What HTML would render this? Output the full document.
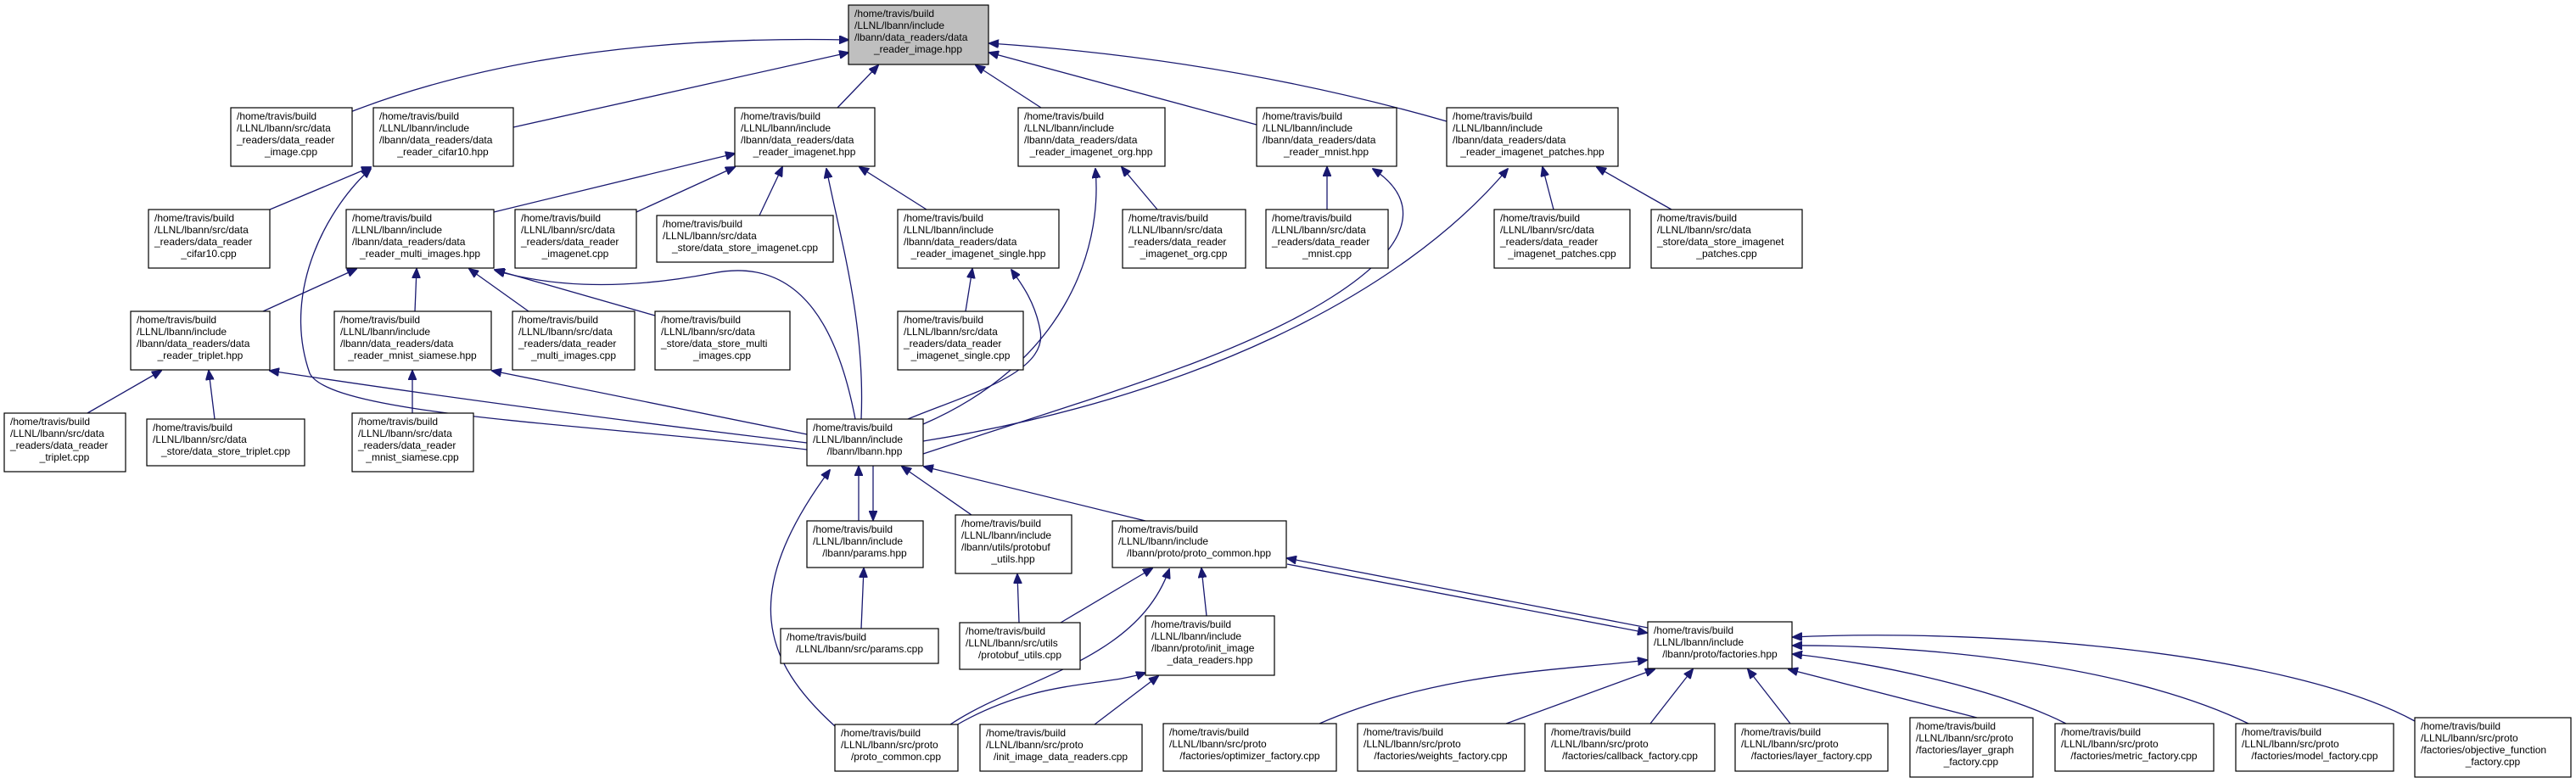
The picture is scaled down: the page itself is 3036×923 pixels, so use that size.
<!DOCTYPE html>
<html><head><meta charset="utf-8"><style>
html,body{margin:0;padding:0;background:#fff;}
svg{display:block;}
text{font-family:"Liberation Sans",Arial,sans-serif;font-size:12px;fill:#000;}
.n{fill:#fff;stroke:#000;stroke-width:1.2;}
.e{fill:none;stroke:#191970;stroke-width:1.3;}
</style></head><body>
<svg width="3036" height="923" viewBox="0 0 3036 923" xmlns="http://www.w3.org/2000/svg">
<defs><marker id="a" markerWidth="12" markerHeight="10" refX="11" refY="5" orient="auto" markerUnits="userSpaceOnUse"><path d="M0,0 L12,5 L0,10 z" fill="#191970" stroke="#191970"/></marker></defs>
<g>
<path class="e" marker-end="url(#a)" d="M413,132 Q650,40 1000,47"/>
<path class="e" marker-end="url(#a)" d="M605,150 L1000,62"/>
<path class="e" marker-end="url(#a)" d="M987,127 L1035,77"/>
<path class="e" marker-end="url(#a)" d="M1227,127 L1150,77"/>
<path class="e" marker-end="url(#a)" d="M1481,147 L1166,62"/>
<path class="e" marker-end="url(#a)" d="M1705,143 Q1450,70 1166,51"/>
<path class="e" marker-end="url(#a)" d="M318,247 L437,197"/>
<path class="e" marker-end="url(#a)" d="M951,530 C700,500 390,490 365,440 C330,340 390,240 437,199"/>
<path class="e" marker-end="url(#a)" d="M582,250 L866,181"/>
<path class="e" marker-end="url(#a)" d="M750,250 L866,197"/>
<path class="e" marker-end="url(#a)" d="M895,254 L922,197"/>
<path class="e" marker-end="url(#a)" d="M1092,247 L1013,197"/>
<path class="e" marker-end="url(#a)" d="M1015,494 C1020,380 990,280 974,199"/>
<path class="e" marker-end="url(#a)" d="M310,367 L420,317"/>
<path class="e" marker-end="url(#a)" d="M489,367 L491,317"/>
<path class="e" marker-end="url(#a)" d="M623,367 L553,317"/>
<path class="e" marker-end="url(#a)" d="M772,372 L583,318"/>
<path class="e" marker-end="url(#a)" d="M1008,494 C990,400 950,300 840,322 C720,345 640,335 584,319"/>
<path class="e" marker-end="url(#a)" d="M103,487 L190,437"/>
<path class="e" marker-end="url(#a)" d="M253,494 L246,437"/>
<path class="e" marker-end="url(#a)" d="M951,522 Q600,480 318,437"/>
<path class="e" marker-end="url(#a)" d="M486,487 L486,437"/>
<path class="e" marker-end="url(#a)" d="M951,512 L580,437"/>
<path class="e" marker-end="url(#a)" d="M1138,367 L1146,317"/>
<path class="e" marker-end="url(#a)" d="M1070,494 C1140,465 1235,440 1226,390 C1220,355 1202,332 1192,318"/>
<path class="e" marker-end="url(#a)" d="M1364,247 L1322,197"/>
<path class="e" marker-end="url(#a)" d="M1088,500 C1250,430 1300,300 1291,199"/>
<path class="e" marker-end="url(#a)" d="M1564,247 L1564,197"/>
<path class="e" marker-end="url(#a)" d="M1088,535 C1300,465 1460,420 1570,350 C1680,280 1665,230 1618,199"/>
<path class="e" marker-end="url(#a)" d="M1831,247 L1818,197"/>
<path class="e" marker-end="url(#a)" d="M1970,247 L1882,197"/>
<path class="e" marker-end="url(#a)" d="M1088,520 C1400,470 1650,350 1777,199"/>
<path class="e" marker-end="url(#a)" d="M1012,614 L1012,550"/>
<path class="e" marker-end="url(#a)" d="M1029,549 L1029,613"/>
<path class="e" marker-end="url(#a)" d="M1145,607 L1063,550"/>
<path class="e" marker-end="url(#a)" d="M1350,614 L1089,550"/>
<path class="e" marker-end="url(#a)" d="M984,856 C900,780 870,700 978,554"/>
<path class="e" marker-end="url(#a)" d="M1015,741 L1018,670"/>
<path class="e" marker-end="url(#a)" d="M1201,734 L1199,677"/>
<path class="e" marker-end="url(#a)" d="M1250,734 L1358,670"/>
<path class="e" marker-end="url(#a)" d="M1120,854 C1200,800 1340,780 1378,671"/>
<path class="e" marker-end="url(#a)" d="M1422,726 L1416,670"/>
<path class="e" marker-end="url(#a)" d="M1125,856 C1220,800 1300,810 1350,793"/>
<path class="e" marker-end="url(#a)" d="M1290,854 L1365,797"/>
<path class="e" marker-end="url(#a)" d="M1942,740 L1517,658"/>
<path class="e" marker-end="url(#a)" d="M1517,665 L1941,746"/>
<path class="e" marker-end="url(#a)" d="M1555,853 C1700,790 1850,790 1941,778"/>
<path class="e" marker-end="url(#a)" d="M1775,853 L1950,789"/>
<path class="e" marker-end="url(#a)" d="M1945,853 L1995,789"/>
<path class="e" marker-end="url(#a)" d="M2110,853 L2060,789"/>
<path class="e" marker-end="url(#a)" d="M2330,846 L2108,789"/>
<path class="e" marker-end="url(#a)" d="M2435,853 C2350,810 2200,780 2113,771"/>
<path class="e" marker-end="url(#a)" d="M2650,853 C2500,780 2250,760 2113,761"/>
<path class="e" marker-end="url(#a)" d="M2846,850 C2700,770 2350,740 2113,751"/>
</g>
<g>
<rect class="n" x="1000" y="6" width="165" height="70" style="fill:#bfbfbf"/>
<text x="1007" y="20">/home/travis/build</text><text x="1007" y="34">/LLNL/lbann/include</text><text x="1007" y="48">/lbann/data_readers/data</text><text x="1082" y="62" text-anchor="middle">_reader_image.hpp</text>

<rect class="n" x="272" y="127" width="143" height="69"/>
<text x="279" y="141">/home/travis/build</text><text x="279" y="155">/LLNL/lbann/src/data</text><text x="279" y="169">_readers/data_reader</text><text x="343" y="183" text-anchor="middle">_image.cpp</text>

<rect class="n" x="440" y="127" width="165" height="69"/>
<text x="447" y="141">/home/travis/build</text><text x="447" y="155">/LLNL/lbann/include</text><text x="447" y="169">/lbann/data_readers/data</text><text x="522" y="183" text-anchor="middle">_reader_cifar10.hpp</text>

<rect class="n" x="866" y="127" width="165" height="69"/>
<text x="873" y="141">/home/travis/build</text><text x="873" y="155">/LLNL/lbann/include</text><text x="873" y="169">/lbann/data_readers/data</text><text x="948" y="183" text-anchor="middle">_reader_imagenet.hpp</text>

<rect class="n" x="1200" y="127" width="173" height="69"/>
<text x="1207" y="141">/home/travis/build</text><text x="1207" y="155">/LLNL/lbann/include</text><text x="1207" y="169">/lbann/data_readers/data</text><text x="1286" y="183" text-anchor="middle">_reader_imagenet_org.hpp</text>

<rect class="n" x="1481" y="127" width="165" height="69"/>
<text x="1488" y="141">/home/travis/build</text><text x="1488" y="155">/LLNL/lbann/include</text><text x="1488" y="169">/lbann/data_readers/data</text><text x="1563" y="183" text-anchor="middle">_reader_mnist.hpp</text>

<rect class="n" x="1705" y="127" width="202" height="69"/>
<text x="1712" y="141">/home/travis/build</text><text x="1712" y="155">/LLNL/lbann/include</text><text x="1712" y="169">/lbann/data_readers/data</text><text x="1806" y="183" text-anchor="middle">_reader_imagenet_patches.hpp</text>

<rect class="n" x="175" y="247" width="143" height="69"/>
<text x="182" y="261">/home/travis/build</text><text x="182" y="275">/LLNL/lbann/src/data</text><text x="182" y="289">_readers/data_reader</text><text x="246" y="303" text-anchor="middle">_cifar10.cpp</text>

<rect class="n" x="408" y="247" width="174" height="69"/>
<text x="415" y="261">/home/travis/build</text><text x="415" y="275">/LLNL/lbann/include</text><text x="415" y="289">/lbann/data_readers/data</text><text x="495" y="303" text-anchor="middle">_reader_multi_images.hpp</text>

<rect class="n" x="607" y="247" width="143" height="69"/>
<text x="614" y="261">/home/travis/build</text><text x="614" y="275">/LLNL/lbann/src/data</text><text x="614" y="289">_readers/data_reader</text><text x="678" y="303" text-anchor="middle">_imagenet.cpp</text>

<rect class="n" x="774" y="254" width="208" height="55"/>
<text x="781" y="268">/home/travis/build</text><text x="781" y="282">/LLNL/lbann/src/data</text><text x="878" y="296" text-anchor="middle">_store/data_store_imagenet.cpp</text>

<rect class="n" x="1058" y="247" width="190" height="69"/>
<text x="1065" y="261">/home/travis/build</text><text x="1065" y="275">/LLNL/lbann/include</text><text x="1065" y="289">/lbann/data_readers/data</text><text x="1153" y="303" text-anchor="middle">_reader_imagenet_single.hpp</text>

<rect class="n" x="1323" y="247" width="145" height="69"/>
<text x="1330" y="261">/home/travis/build</text><text x="1330" y="275">/LLNL/lbann/src/data</text><text x="1330" y="289">_readers/data_reader</text><text x="1395" y="303" text-anchor="middle">_imagenet_org.cpp</text>

<rect class="n" x="1492" y="247" width="144" height="69"/>
<text x="1499" y="261">/home/travis/build</text><text x="1499" y="275">/LLNL/lbann/src/data</text><text x="1499" y="289">_readers/data_reader</text><text x="1564" y="303" text-anchor="middle">_mnist.cpp</text>

<rect class="n" x="1761" y="247" width="160" height="69"/>
<text x="1768" y="261">/home/travis/build</text><text x="1768" y="275">/LLNL/lbann/src/data</text><text x="1768" y="289">_readers/data_reader</text><text x="1841" y="303" text-anchor="middle">_imagenet_patches.cpp</text>

<rect class="n" x="1946" y="247" width="178" height="69"/>
<text x="1953" y="261">/home/travis/build</text><text x="1953" y="275">/LLNL/lbann/src/data</text><text x="1953" y="289">_store/data_store_imagenet</text><text x="2035" y="303" text-anchor="middle">_patches.cpp</text>

<rect class="n" x="154" y="367" width="164" height="69"/>
<text x="161" y="381">/home/travis/build</text><text x="161" y="395">/LLNL/lbann/include</text><text x="161" y="409">/lbann/data_readers/data</text><text x="236" y="423" text-anchor="middle">_reader_triplet.hpp</text>

<rect class="n" x="394" y="367" width="185" height="69"/>
<text x="401" y="381">/home/travis/build</text><text x="401" y="395">/LLNL/lbann/include</text><text x="401" y="409">/lbann/data_readers/data</text><text x="486" y="423" text-anchor="middle">_reader_mnist_siamese.hpp</text>

<rect class="n" x="604" y="367" width="144" height="69"/>
<text x="611" y="381">/home/travis/build</text><text x="611" y="395">/LLNL/lbann/src/data</text><text x="611" y="409">_readers/data_reader</text><text x="676" y="423" text-anchor="middle">_multi_images.cpp</text>

<rect class="n" x="772" y="367" width="159" height="69"/>
<text x="779" y="381">/home/travis/build</text><text x="779" y="395">/LLNL/lbann/src/data</text><text x="779" y="409">_store/data_store_multi</text><text x="851" y="423" text-anchor="middle">_images.cpp</text>

<rect class="n" x="1058" y="367" width="148" height="69"/>
<text x="1065" y="381">/home/travis/build</text><text x="1065" y="395">/LLNL/lbann/src/data</text><text x="1065" y="409">_readers/data_reader</text><text x="1132" y="423" text-anchor="middle">_imagenet_single.cpp</text>

<rect class="n" x="5" y="487" width="143" height="69"/>
<text x="12" y="501">/home/travis/build</text><text x="12" y="515">/LLNL/lbann/src/data</text><text x="12" y="529">_readers/data_reader</text><text x="76" y="543" text-anchor="middle">_triplet.cpp</text>

<rect class="n" x="173" y="494" width="186" height="55"/>
<text x="180" y="508">/home/travis/build</text><text x="180" y="522">/LLNL/lbann/src/data</text><text x="266" y="536" text-anchor="middle">_store/data_store_triplet.cpp</text>

<rect class="n" x="415" y="487" width="143" height="69"/>
<text x="422" y="501">/home/travis/build</text><text x="422" y="515">/LLNL/lbann/src/data</text><text x="422" y="529">_readers/data_reader</text><text x="486" y="543" text-anchor="middle">_mnist_siamese.cpp</text>

<rect class="n" x="951" y="494" width="137" height="55"/>
<text x="958" y="508">/home/travis/build</text><text x="958" y="522">/LLNL/lbann/include</text><text x="1019" y="536" text-anchor="middle">/lbann/lbann.hpp</text>

<rect class="n" x="951" y="614" width="137" height="55"/>
<text x="958" y="628">/home/travis/build</text><text x="958" y="642">/LLNL/lbann/include</text><text x="1019" y="656" text-anchor="middle">/lbann/params.hpp</text>

<rect class="n" x="1126" y="607" width="137" height="69"/>
<text x="1133" y="621">/home/travis/build</text><text x="1133" y="635">/LLNL/lbann/include</text><text x="1133" y="649">/lbann/utils/protobuf</text><text x="1194" y="663" text-anchor="middle">_utils.hpp</text>

<rect class="n" x="1311" y="614" width="205" height="55"/>
<text x="1318" y="628">/home/travis/build</text><text x="1318" y="642">/LLNL/lbann/include</text><text x="1413" y="656" text-anchor="middle">/lbann/proto/proto_common.hpp</text>

<rect class="n" x="920" y="741" width="186" height="41"/>
<text x="927" y="755">/home/travis/build</text><text x="1013" y="769" text-anchor="middle">/LLNL/lbann/src/params.cpp</text>

<rect class="n" x="1131" y="734" width="142" height="55"/>
<text x="1138" y="748">/home/travis/build</text><text x="1138" y="762">/LLNL/lbann/src/utils</text><text x="1202" y="776" text-anchor="middle">/protobuf_utils.cpp</text>

<rect class="n" x="1350" y="726" width="152" height="70"/>
<text x="1357" y="740">/home/travis/build</text><text x="1357" y="754">/LLNL/lbann/include</text><text x="1357" y="768">/lbann/proto/init_image</text><text x="1426" y="782" text-anchor="middle">_data_readers.hpp</text>

<rect class="n" x="1942" y="733" width="170" height="55"/>
<text x="1949" y="747">/home/travis/build</text><text x="1949" y="761">/LLNL/lbann/include</text><text x="2027" y="775" text-anchor="middle">/lbann/proto/factories.hpp</text>

<rect class="n" x="984" y="854" width="145" height="55"/>
<text x="991" y="868">/home/travis/build</text><text x="991" y="882">/LLNL/lbann/src/proto</text><text x="1056" y="896" text-anchor="middle">/proto_common.cpp</text>

<rect class="n" x="1155" y="854" width="191" height="55"/>
<text x="1162" y="868">/home/travis/build</text><text x="1162" y="882">/LLNL/lbann/src/proto</text><text x="1250" y="896" text-anchor="middle">/init_image_data_readers.cpp</text>

<rect class="n" x="1371" y="853" width="204" height="56"/>
<text x="1378" y="867">/home/travis/build</text><text x="1378" y="881">/LLNL/lbann/src/proto</text><text x="1473" y="895" text-anchor="middle">/factories/optimizer_factory.cpp</text>

<rect class="n" x="1600" y="853" width="197" height="56"/>
<text x="1607" y="867">/home/travis/build</text><text x="1607" y="881">/LLNL/lbann/src/proto</text><text x="1698" y="895" text-anchor="middle">/factories/weights_factory.cpp</text>

<rect class="n" x="1821" y="853" width="200" height="56"/>
<text x="1828" y="867">/home/travis/build</text><text x="1828" y="881">/LLNL/lbann/src/proto</text><text x="1921" y="895" text-anchor="middle">/factories/callback_factory.cpp</text>

<rect class="n" x="2045" y="853" width="180" height="56"/>
<text x="2052" y="867">/home/travis/build</text><text x="2052" y="881">/LLNL/lbann/src/proto</text><text x="2135" y="895" text-anchor="middle">/factories/layer_factory.cpp</text>

<rect class="n" x="2251" y="846" width="145" height="70"/>
<text x="2258" y="860">/home/travis/build</text><text x="2258" y="874">/LLNL/lbann/src/proto</text><text x="2258" y="888">/factories/layer_graph</text><text x="2323" y="902" text-anchor="middle">_factory.cpp</text>

<rect class="n" x="2422" y="853" width="187" height="56"/>
<text x="2429" y="867">/home/travis/build</text><text x="2429" y="881">/LLNL/lbann/src/proto</text><text x="2515" y="895" text-anchor="middle">/factories/metric_factory.cpp</text>

<rect class="n" x="2635" y="853" width="186" height="56"/>
<text x="2642" y="867">/home/travis/build</text><text x="2642" y="881">/LLNL/lbann/src/proto</text><text x="2728" y="895" text-anchor="middle">/factories/model_factory.cpp</text>

<rect class="n" x="2846" y="846" width="184" height="70"/>
<text x="2853" y="860">/home/travis/build</text><text x="2853" y="874">/LLNL/lbann/src/proto</text><text x="2853" y="888">/factories/objective_function</text><text x="2938" y="902" text-anchor="middle">_factory.cpp</text>
</g>
</svg>
</body></html>
